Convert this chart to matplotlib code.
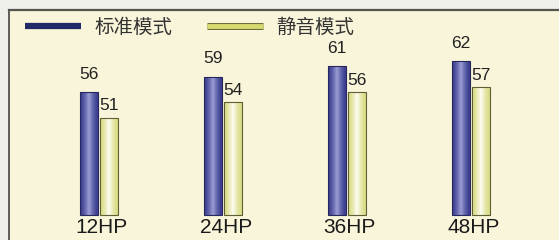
import numpy as np
import matplotlib.pyplot as plt
from matplotlib.lines import Line2D
import matplotlib.patheffects as pe

# data
categories = ['12HP', '24HP', '36HP', '48HP']
standard = [56, 59, 61, 62]
silent = [51, 54, 56, 57]
series_names = ['标准模式', '静音模式']
base = 32  # the value axis does not start at zero

plt.rcParams['font.family'] = ['Liberation Sans', 'Noto Sans CJK SC', 'DejaVu Sans']

fig = plt.figure(figsize=(5.59, 2.40), dpi=100, facecolor='#f0f0eb')
ax = fig.add_axes([9 / 559, 0, 550 / 559, 230 / 240])
ax.set_facecolor('#f8f5da')

x = np.arange(len(categories))
w = 0.145
off = 0.08

blue_bars = ax.bar(x - off, np.array(standard) - base, w, bottom=base,
                   color='#4b4f9c', edgecolor='#25275e', linewidth=0.8, zorder=2)
yel_bars = ax.bar(x + off, np.array(silent) - base, w, bottom=base,
                  color='#e7e9a4', edgecolor='#5f5f35', linewidth=0.8, zorder=2)

# gradient fill for the bars (lighter strip in the middle)
def shade(bars, c_edge, c_mid):
    c_edge = np.array(plt.matplotlib.colors.to_rgb(c_edge))
    c_mid = np.array(plt.matplotlib.colors.to_rgb(c_mid))
    t = np.linspace(0, 1, 64)
    prof = np.clip(1 - np.abs(t - 0.5) * 2.2, 0, 1) ** 1.3
    grad = c_edge[None, :] * (1 - prof[:, None]) + c_mid[None, :] * prof[:, None]
    img = grad[None, :, :]
    for b in bars:
        x0, y0 = b.get_x(), b.get_y()
        im = ax.imshow(img, extent=[x0, x0 + b.get_width(), y0, y0 + b.get_height()],
                       aspect='auto', zorder=2.5, interpolation='bilinear')
        im.set_clip_path(b)
        b.set_facecolor('none')
        b.set_zorder(3)

shade(blue_bars, '#3e4090', '#9a9ed4')
shade(yel_bars, '#d9dc86', '#fdfdf2')

ax.set_xlim(-0.726, 3.71)
ax.set_ylim(27.1, 72)

for b, v in zip(blue_bars, standard):
    ax.annotate(str(v), (b.get_x() + b.get_width() / 2, v), xytext=(0, 7.5),
                textcoords='offset points', ha='center', va='bottom',
                fontsize=12.5, color='#222222')
for b, v in zip(yel_bars, silent):
    ax.annotate(str(v), (b.get_x() + b.get_width() / 2, v), xytext=(0, 3),
                textcoords='offset points', ha='center', va='bottom',
                fontsize=12.5, color='#222222')

for i, c in enumerate(categories):
    ax.annotate(c, (x[i], base), xytext=(2, -2.5), textcoords='offset points',
                ha='center', va='top', fontsize=15, color='#1a1a1a')

ax.set_xticks([])
ax.set_yticks([])
for s in ['right', 'bottom']:
    ax.spines[s].set_visible(False)
ax.spines['top'].set_color('#555550')
ax.spines['top'].set_linewidth(1.6)
ax.spines['left'].set_color('#444440')
ax.spines['left'].set_linewidth(1.2)

handles = [
    Line2D([], [], color='#1f2a66', lw=4.5, solid_capstyle='butt'),
    Line2D([], [], color='#d6da70', lw=3.5, solid_capstyle='butt',
           path_effects=[pe.Stroke(linewidth=5, foreground='#6b6a3a'), pe.Normal()]),
]
leg = fig.legend(handles, series_names, loc='center left',
                 bbox_to_anchor=(25 / 559, 1 - 27 / 240),
                 bbox_transform=fig.transFigure, ncol=2, frameon=False,
                 fontsize=14, handlelength=2.9, handletextpad=0.65,
                 columnspacing=1.8, borderpad=0, borderaxespad=0)
for t in leg.get_texts():
    t.set_family(['Noto Sans CJK SC', 'DejaVu Sans'])
    t.set_color('#333333')

fig.savefig('out.png', dpi=100, facecolor=fig.get_facecolor())
